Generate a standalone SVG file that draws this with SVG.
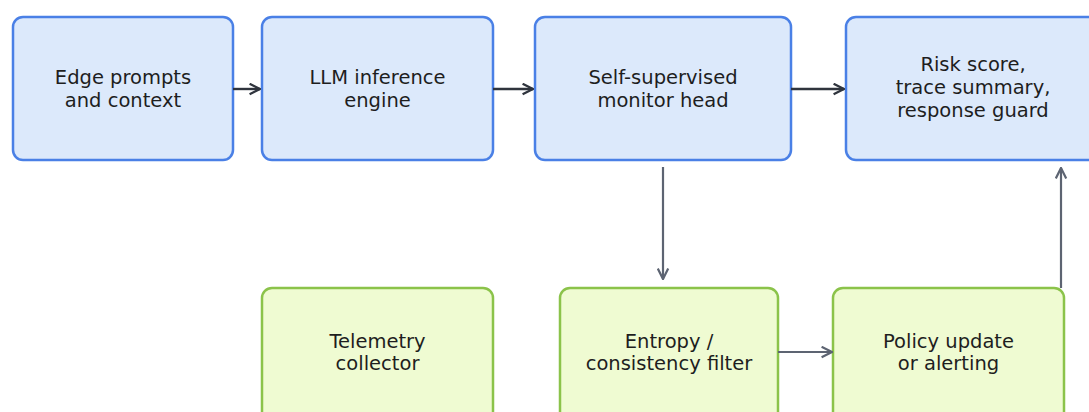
<svg xmlns="http://www.w3.org/2000/svg" width="1089" height="412" viewBox="0 0 1089 412">
  <style>
    .blue { fill: #dce9fb; stroke: #4a80e6; stroke-width: 2.5; }
    .green { fill: #effbd2; stroke: #8bc34a; stroke-width: 2.5; }
    .label { font-family: "DejaVu Sans", "Noto Sans", sans-serif; font-size: 19.5px; fill: #1e1e1e; text-anchor: middle; }
    .main { fill: none; stroke: #2f343d; stroke-width: 2.4; }
    .side { fill: none; stroke: #5d6472; stroke-width: 2.2; }
  </style>
  <defs>
    <marker id="arrowDark" viewBox="0 0 10 10" refX="9" refY="5" markerWidth="13" markerHeight="13" markerUnits="userSpaceOnUse" orient="auto">
      <path d="M1,1 L9,5 L1,9" fill="none" stroke="#2f343d" stroke-width="1.8"/>
    </marker>
    <marker id="arrowGray" viewBox="0 0 10 10" refX="9" refY="5" markerWidth="13" markerHeight="13" markerUnits="userSpaceOnUse" orient="auto">
      <path d="M1,1 L9,5 L1,9" fill="none" stroke="#5d6472" stroke-width="1.7"/>
    </marker>
  </defs>

  <!-- main pipeline row -->
  <g id="edge-prompts">
    <rect class="blue" x="13" y="17" width="220" height="143" rx="10"/>
    <text class="label" x="123" y="83.5">Edge prompts</text>
    <text class="label" x="123" y="106.5">and context</text>
  </g>
  <g id="llm-engine">
    <rect class="blue" x="262" y="17" width="231" height="143" rx="10"/>
    <text class="label" x="377.5" y="83.5">LLM inference</text>
    <text class="label" x="377.5" y="106.5">engine</text>
  </g>
  <g id="monitor-head">
    <rect class="blue" x="535" y="17" width="256" height="143" rx="10"/>
    <text class="label" x="663" y="83.5">Self-supervised</text>
    <text class="label" x="663" y="106.5">monitor head</text>
  </g>
  <g id="risk-output">
    <rect class="blue" x="846" y="17" width="254" height="143" rx="10"/>
    <text class="label" x="973" y="71">Risk score,</text>
    <text class="label" x="973" y="94">trace summary,</text>
    <text class="label" x="973" y="117">response guard</text>
  </g>

  <!-- monitoring side row -->
  <g id="telemetry">
    <rect class="green" x="262" y="288" width="231" height="143" rx="10"/>
    <text class="label" x="377.5" y="347.5">Telemetry</text>
    <text class="label" x="377.5" y="370">collector</text>
  </g>
  <g id="entropy-filter">
    <rect class="green" x="560" y="288" width="218" height="143" rx="10"/>
    <text class="label" x="669" y="347.5">Entropy /</text>
    <text class="label" x="669" y="370">consistency filter</text>
  </g>
  <g id="policy-update">
    <rect class="green" x="833" y="288" width="231" height="143" rx="10"/>
    <text class="label" x="948.5" y="347.5">Policy update</text>
    <text class="label" x="948.5" y="370">or alerting</text>
  </g>

  <!-- connectors -->
  <g id="connectors">
    <line class="main" x1="233" y1="89" x2="260" y2="89" marker-end="url(#arrowDark)"/>
    <line class="main" x1="493" y1="89" x2="533" y2="89" marker-end="url(#arrowDark)"/>
    <line class="main" x1="791" y1="89" x2="844" y2="89" marker-end="url(#arrowDark)"/>
    <line class="side" x1="663" y1="167" x2="663" y2="279" marker-end="url(#arrowGray)"/>
    <line class="side" x1="778" y1="352" x2="832" y2="352" marker-end="url(#arrowGray)"/>
    <line class="side" x1="1061" y1="288" x2="1061" y2="168" marker-end="url(#arrowGray)"/>
  </g>
</svg>
